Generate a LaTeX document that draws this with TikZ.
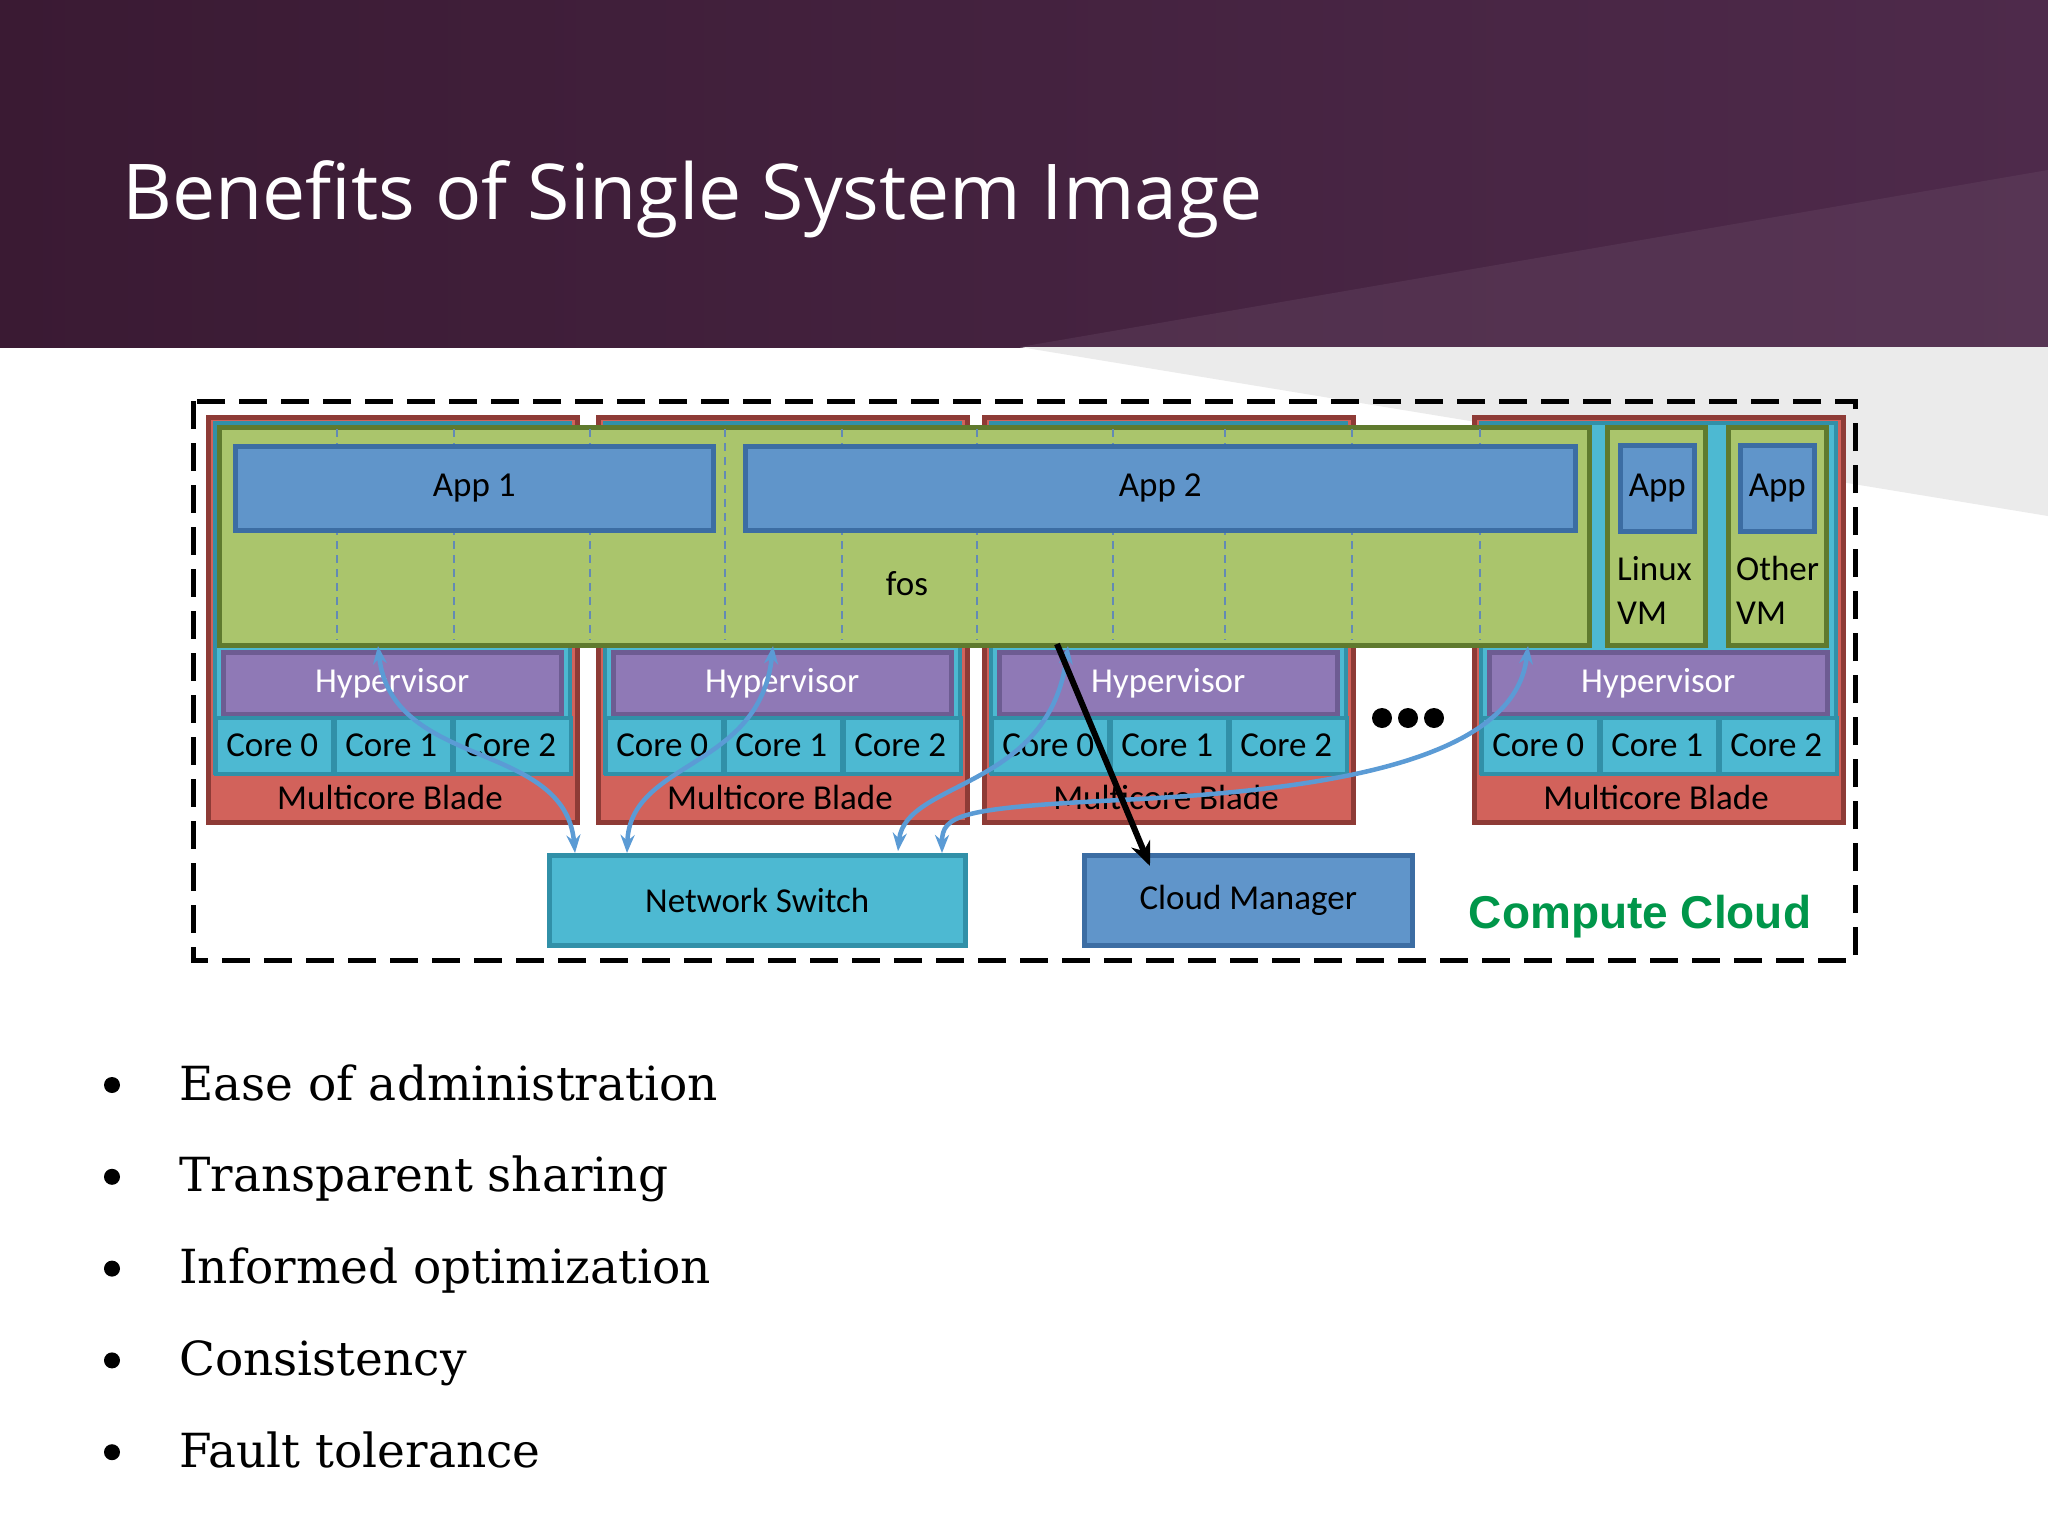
\documentclass[tikz,border=0pt]{standalone}
\usepackage{fontspec}
\setmainfont{DejaVu Serif}
\newfontfamily\carl{Carlito}
\newfontfamily\osans{Open Sans}
\newfontfamily\lsans{Liberation Sans}
\usetikzlibrary{arrows.meta}
\definecolor{hdrA}{HTML}{3A1A33}
\definecolor{hdrB}{HTML}{4E2A4B}
\definecolor{bred}{HTML}{D2625B}
\definecolor{bredD}{HTML}{8E3B36}
\definecolor{teal}{HTML}{4DB9D2}
\definecolor{tealD}{HTML}{3190A8}
\definecolor{fgreen}{HTML}{AAC56C}
\definecolor{fgreenD}{HTML}{5F7A2E}
\definecolor{ablue}{HTML}{6095CA}
\definecolor{abluD}{HTML}{3C6DA3}
\definecolor{hpur}{HTML}{8F79B6}
\definecolor{hpurD}{HTML}{6D5C92}
\definecolor{arr}{HTML}{5B9BD5}
\definecolor{cgreen}{HTML}{00964A}
\tikzset{
  box/.style={draw, line width=4.5pt, inner sep=0pt, anchor=north west},
  lbl/.style={font=\carl\fontsize{35}{40}\selectfont, inner sep=0pt},
  link/.style={arr, line width=4.5pt, {Stealth[length=18pt,width=14pt]}-{Stealth[length=18pt,width=14pt]}},
}
\begin{document}
\begin{tikzpicture}[x=1pt,y=-1pt]
\useasboundingbox (0,0) rectangle (2048,1536);
\fill[white] (0,0) rectangle (2048,1536);
% header
\shade[left color=hdrA, right color=hdrB] (0,0) rectangle (2048,347);
\fill[hdrB!85!white, opacity=0.35] (1020,347) -- (2048,170) -- (2048,347) -- cycle;
\fill[black!8] (1020,347) -- (2048,347) -- (2048,516) -- cycle;
\node[anchor=base west, text=white, font=\osans\fontsize{77}{90}\selectfont, inner sep=0pt] (title) at (122,219) {Benefits of Single System Image};
% frame
\draw[line width=5pt, dash pattern=on 28pt off 14pt] (193,401) rectangle (1855,960);
% blades
\foreach \x/\n in {206/a,596/b,982/c,1472/d}{
  \node[box, draw=bredD, fill=bred, minimum width=369pt, minimum height=405pt] (blade\n) at (\x,415) {};
  \node[box, draw=tealD, fill=teal, line width=3.5pt, minimum width=355pt, minimum height=350pt] (tin\n) at (\x+7,421) {};
  \node[lbl] (mb\n) at (\x+184,797) {Multicore Blade};
  \node[box, draw=hpurD, fill=hpur, minimum width=338pt, minimum height=62pt] (hyp\n) at (\x+15,650) {};
  \node[lbl, text=white] at (hyp\n.center) {Hypervisor};
  \foreach \i in {0,1,2}{
    \node[box, draw=tealD, fill=teal, line width=3.5pt, minimum width=117pt, minimum height=56pt] (core\n\i) at (\x+8+\i*119,716) {};
    \node[lbl] at ([xshift=-2pt]core\n\i.center) {Core \i};
  }
}
% fos
\node[box, draw=fgreenD, fill=fgreen, minimum width=1370pt, minimum height=218pt] (fos) at (217,425) {};
\foreach \x in {337,454,590,725,842,977,1113,1225,1352,1480}
  \draw[abluD!80, line width=1.2pt, dash pattern=on 8pt off 6pt] (\x,429) -- (\x,640);
\node[lbl] (fostxt) at (907,584) {fos};
\node[box, draw=abluD, fill=ablue, minimum width=478pt, minimum height=84pt] (app1) at (233,444) {};
\node[lbl] at (app1.center) {App 1};
\node[box, draw=abluD, fill=ablue, minimum width=830pt, minimum height=84pt] (app2) at (743,444) {};
\node[lbl] at (app2.center) {App 2};
% VMs
\node[box, draw=fgreenD, fill=fgreen, minimum width=98pt, minimum height=218pt] (vm1) at (1605,425) {};
\node[box, draw=abluD, fill=ablue, minimum width=74pt, minimum height=86pt] (vapp1) at (1618,443) {};
\node[lbl] at (vapp1.center) {App};
\node[lbl, anchor=west, align=left] at (1617,590) {Linux\\[4pt]VM};
\node[box, draw=fgreenD, fill=fgreen, minimum width=98pt, minimum height=218pt] (vm2) at (1726,425) {};
\node[box, draw=abluD, fill=ablue, minimum width=74pt, minimum height=86pt] (vapp2) at (1738,443) {};
\node[lbl] at (vapp2.center) {App};
\node[lbl, anchor=west, align=left] at (1736,590) {Other\\[4pt]VM};
% dots
\node[inner sep=0pt] (dots) at (1408,718) {\tikz[x=1pt,y=1pt]{\foreach \d in {0,26,52}\fill[black] (\d,0) circle (10pt);}};
% bottom boxes
\node[box, draw=tealD, fill=teal, minimum width=416pt, minimum height=90pt] (sw) at (547,853) {};
\node[lbl] at (sw.center) {Network Switch};
\node[box, draw=abluD, fill=ablue, minimum width=328pt, minimum height=90pt] (cm) at (1082,853) {};
\node[lbl] at (cm.center) {Cloud Manager};
\node[font=\lsans\bfseries\fontsize{46}{50}\selectfont, text=cgreen, inner sep=0pt] (cc) at (1640,917) {Compute Cloud};
% connectors
\coordinate (s1) at (575,853); \coordinate (s2) at (627,853);
\coordinate (s3) at (898,851); \coordinate (s4) at (942,853);
\coordinate (h1) at (378,646); \coordinate (h2) at (773,646);
\coordinate (h3) at (1068,646); \coordinate (h4) at (1528,646);
\draw[link] (h1) .. controls (392,770) and (565,740) .. (s1);
\draw[link] (h2) .. controls (760,770) and (630,760) .. (s2);
\draw[link] (h3) .. controls (1050,790) and (905,780) .. (s3);
\draw[link] (h4) .. controls (1515,760) and (1330,790) .. (1120,800) .. controls (960,808) and (942,815) .. (s4);
\coordinate (f1) at (1057,644);
\coordinate (c1) at (1150,866);
\draw[black, line width=6pt, -{Stealth[length=24pt,width=20pt]}] (f1) -- (c1);
% bullets
\foreach \t [count=\k] in {Ease of administration, Transparent sharing, Informed optimization, Consistency, Fault tolerance}{
  \fill[black] (112,{1085+(\k-1)*91.8}) circle (8pt);
  \node[anchor=base west, inner sep=0pt, font=\fontsize{47}{60}\selectfont] (b\k) at (179,{1100+(\k-1)*91.8}) {\t};
}
\end{tikzpicture}
\end{document}
